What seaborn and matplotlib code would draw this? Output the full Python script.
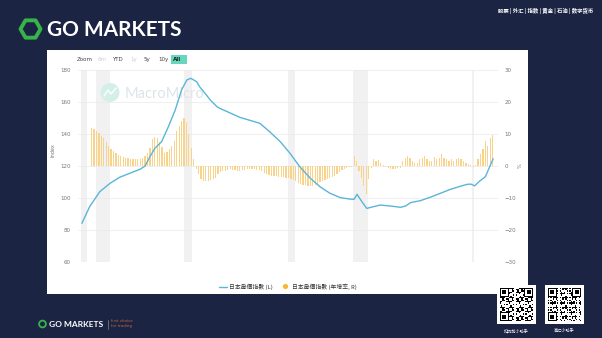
import numpy as np
import matplotlib
matplotlib.use("Agg")
import matplotlib.pyplot as plt
from matplotlib.patches import Rectangle, RegularPolygon, Circle, FancyBboxPatch
from matplotlib.lines import Line2D
from matplotlib.transforms import IdentityTransform
import seaborn as sns

# ---------------- data ----------------
line_years = [1980.0, 1980.8, 1981.85, 1982.9, 1983.9, 1984.9, 1986.0, 1986.5, 1987.0, 1987.5,
              1988.2, 1988.9, 1989.6, 1990.25, 1990.8, 1991.2, 1991.8, 1992.1, 1992.8, 1993.2,
              1993.9, 1994.2, 1996.25, 1998.3, 1999.3, 2000.4, 2001.4, 2002.4, 2003.5, 2004.5,
              2005.5, 2006.6, 2007.6, 2008.0, 2008.3, 2008.8, 2009.3, 2010.0, 2010.7, 2011.7,
              2012.8, 2013.3, 2013.8, 2014.8, 2015.8, 2016.9, 2017.9, 2018.9, 2019.6, 2020.0,
              2020.4, 2020.9, 2021.5, 2021.8, 2022.3]
line_values = [84.2, 94.6, 104.0, 109.2, 113.0, 115.4, 118.0, 120.0, 125.8, 131.0,
               135.2, 144.6, 155.0, 167.5, 173.8, 174.8, 172.7, 169.6, 164.4, 161.3,
               157.0, 156.0, 150.4, 146.7, 141.5, 135.2, 128.0, 119.6, 112.3, 107.0,
               103.0, 100.2, 99.3, 99.2, 102.3, 97.7, 93.5, 94.6, 95.6, 95.0,
               94.2, 95.0, 97.1, 98.3, 100.4, 103.0, 105.4, 107.3, 108.5, 108.7,
               107.6, 110.5, 113.3, 117.5, 124.5]

bar_start_year = 1981
bar_yoy = [12.0, 11.5, 10.8, 10.2,   9.4, 8.6, 7.5, 6.3,   5.3, 4.6, 4.0, 3.5,
           3.1, 2.8, 2.6, 2.4,       2.3, 2.3, 2.3, 2.3,   2.3, 2.5, 3.2, 4.0,
           5.7, 8.5, 9.2, 8.6,       7.5, 6.0, 4.2, 4.5,   5.2, 6.3, 7.8, 11.0,
           12.5, 14.0, 15.1, 13.6,   9.9, 5.7, 2.1, -0.8,  -2.6, -4.2, -4.7, -4.7,
           -4.7, -4.4, -4.2, -3.6,   -2.6, -2.0, -1.6, -1.5,  -1.2, -1.0, -1.2, -1.4,
           -1.5, -1.5, -1.3, -1.1,   -1.0, -0.9, -0.9, -1.0,  -1.1, -1.4, -1.7, -2.1,
           -2.6, -2.8, -3.0, -3.1,   -3.2, -3.3, -3.4, -3.5,  -3.6, -3.8, -4.1, -4.4,
           -4.8, -5.2, -5.5, -5.8,   -6.0, -6.2, -6.25, -6.2, -6.0, -5.6, -5.1, -4.7,
           -4.4, -4.1, -3.8, -3.5,   -3.0, -2.4, -1.8, -1.2,  -0.9, -0.6, -0.3, -0.2,
           3.1, 1.6, -1.6, -3.6,     -6.2, -8.8, -4.2, -0.5,  2.1, 1.6, 1.9, 0.8,
           0.2, -0.2, -0.5, -0.8,    -0.8, -1.0, -0.7, -0.5,  1.6, 2.6, 3.1, 2.6,
           1.6, 1.0, 1.0, 2.1,       2.6, 3.1, 2.1, 1.6,    1.6, 2.8, 2.1, 2.6,
           3.6, 2.6, 2.1, 1.6,       2.1, 1.6, 2.3, 2.6,    2.1, 1.6, 1.0, 0.5,
           0.2, -0.2, 0.2, 2.1,      3.6, 5.4, 7.8, 6.2,    8.9, 9.6]

recession_start = [1979.9, 1981.4, 1990.5, 2001.2, 2007.9, 2020.1]
recession_end = [1980.5, 1982.9, 1991.3, 2001.9, 2009.45, 2020.3]

x_ticks = [1980, 1985, 1990, 1995, 2000, 2005, 2010, 2015, 2020]
left_ticks = [60, 80, 100, 120, 140, 160, 180]
right_ticks = [-30, -20, -10, 0, 10, 20, 30]
zoom_labels = ["Zoom", "6m", "YTD", "1y", "5y", "10y", "All"]
nav_text = "股票 | 外汇 | 指数 | 黄金 | 石油 | 数字货币"
legend_labels = ["日本房價指數 (L)", "日本房價指數 (年增率, R)"]
qr_captions = ["扫码加小助手", "高汇小助手"]

# ---------------- style ----------------
sns.set_theme(style="white")
plt.rcParams["font.family"] = ["DejaVu Sans", "Noto Sans CJK TC"]

W, H = 602, 338
NAVY = "#1b2443"
GREEN = "#36b34a"
LINE_C = "#5ab5d8"
BAR_C = "#fad38a"

def fx(x):
    return x / W

def fy(y):
    return 1 - y / H

fig = plt.figure(figsize=(W / 100, H / 100), dpi=100, facecolor=NAVY)

# white panel
fig.patches.append(Rectangle((fx(47), fy(294)), (528 - 47) / W, (294 - 50) / H,
                             transform=fig.transFigure, facecolor="white",
                             edgecolor="none", zorder=-5))

# ---------------- chart ----------------
ax2 = fig.add_axes([fx(78), fy(262), 420 / W, 192 / H])
ax = ax2.twinx()
ax.yaxis.tick_left()
ax2.yaxis.tick_right()
ax2.set_zorder(0)
ax.set_zorder(1)
ax.patch.set_visible(False)
ax2.set_facecolor("white")

bar_x = bar_start_year + 0.25 * np.arange(len(bar_yoy))
for s, e in zip(recession_start, recession_end):
    ax2.axvspan(s, e, color="#f1f1f1", lw=0, zorder=0)

sns.barplot(x=bar_x, y=bar_yoy, native_scale=True, color=BAR_C, saturation=1,
            width=0.5, errorbar=None, linewidth=0, ax=ax2, zorder=2)
sns.lineplot(x=line_years, y=line_values, color=LINE_C, linewidth=1.0, ax=ax)

ax.set_xlim(1979.6, 2022.8)
ax2.set_xlim(1979.6, 2022.8)
ax.set_ylim(60, 180)
ax2.set_ylim(-30, 30)
ax2.set_yticks(right_ticks)
ax.set_yticks(left_ticks)
ax2.set_xticks(x_ticks)
ax2.set_xticklabels([str(t) for t in x_ticks])
ax.set_xticks([])
ax2.yaxis.grid(True, color="#e9e9e9", lw=0.5)
ax2.xaxis.grid(False)
ax2.set_axisbelow(True)
for a in (ax, ax2):
    a.set_xlabel("")
    a.set_ylabel("")
    for sp in a.spines.values():
        sp.set_visible(False)
ax2.tick_params(axis="y", labelsize=4, colors="#777777", length=0, pad=4.5,
                labelright=True, labelleft=False)
ax.tick_params(axis="y", labelsize=4, colors="#777777", length=0, pad=5.5,
               labelleft=True, labelright=False)
ax2.tick_params(axis="x", labelsize=3.6, colors="#777777", length=0, pad=3)

fig.text(fx(53), fy(150), "Index", rotation=90, fontsize=3.6, color="#777777",
         ha="center", va="center")
fig.text(fx(520), fy(166), "%", rotation=90, fontsize=3.6, color="#777777",
         ha="center", va="center")

# watermark
fig.patches.append(Circle((110, H - 92.5), 9.5, transform=IdentityTransform(),
                          facecolor="#d3efe8", edgecolor="none", zorder=0.5))
fig.lines.append(Line2D([104, 108, 111, 116], [H - 96, H - 90, H - 94, H - 88],
                        transform=IdentityTransform(), color="white", lw=1.0, zorder=0.6))
fig.text(fx(125), fy(93.5), "MacroMicro", fontsize=10.5, color="#dfe4e7",
         family="Lato", ha="left", va="center", zorder=0.5)

# zoom buttons
zoom_x = [77, 98, 112, 130, 144, 158, 173]
zoom_col = ["#444444", "#cccccc", "#444444", "#cccccc", "#444444", "#444444", "#222222"]
fig.patches.append(FancyBboxPatch((fx(171), fy(63.5)), 16 / W, 8.5 / H,
                                  boxstyle="square,pad=0", transform=fig.transFigure,
                                  facecolor="#66d7bc", edgecolor="none", zorder=1))
for lbl, xx, cc in zip(zoom_labels, zoom_x, zoom_col):
    fig.text(fx(xx), fy(59.5), lbl, fontsize=4, color=cc, ha="left", va="center",
             fontweight="bold" if lbl == "All" else "normal", zorder=2)

# legend
fig.lines.append(Line2D([fx(219.5), fx(226.5)], [fy(286.5), fy(286.5)],
                        transform=fig.transFigure, color=LINE_C, lw=1.0))
fig.text(fx(229), fy(286.5), legend_labels[0], fontsize=4.2, color="#333333",
         family=["Noto Sans CJK TC"], ha="left", va="center")
fig.patches.append(Circle((285.5, H - 286.5), 2.6, transform=IdentityTransform(),
                          facecolor="#f5b82e", edgecolor="none"))
fig.text(fx(292), fy(286.5), legend_labels[1], fontsize=4.2, color="#333333",
         family=["Noto Sans CJK TC"], ha="left", va="center")

# ---------------- slide decorations ----------------
fig.patches.append(RegularPolygon((30.5, H - 29), numVertices=6, radius=10,
                                  orientation=np.pi / 6, transform=IdentityTransform(),
                                  facecolor="none", edgecolor=GREEN, lw=2.8,
                                  joinstyle="round"))
fig.text(fx(47), fy(30.5), "GO MARKETS", fontsize=15, color="white", family="Lato",
         fontweight="bold", ha="left", va="center")
fig.text(fx(593), fy(11), nav_text, fontsize=3.9, color="white",
         family=["Noto Sans CJK SC"], fontweight="bold", ha="right", va="center")

# bottom-left logo
fig.patches.append(Circle((42.5, H - 324), 3.4, transform=IdentityTransform(),
                          facecolor="none", edgecolor=GREEN, lw=1.3))
fig.text(fx(49), fy(324.3), "GO MARKETS", fontsize=6, color="white", family="Lato",
         fontweight="bold", ha="left", va="center")
fig.lines.append(Line2D([fx(107.5), fx(107.5)], [fy(319.5), fy(328.5)],
                        transform=fig.transFigure, color="#7f869a", lw=0.5))
fig.text(fx(111), fy(321.3), "first choice", fontsize=2.8, color="#c8663e",
         ha="left", va="center")
fig.text(fx(111), fy(326.5), "for trading", fontsize=2.8, color="#c8663e",
         ha="left", va="center")

# QR codes (decorative)
def qr(x0, y0, size, k):
    n = 25
    i, j = np.mgrid[0:n, 0:n]
    m = (((i * 7 + j * 11 + k * 5) * (i + 3) + j * j * (k + 2)) % 7 < 3).astype(float)
    for (a, b) in [(0, 0), (0, n - 7), (n - 7, 0)]:
        m[a:a + 7, b:b + 7] = 1
        m[a + 1:a + 6, b + 1:b + 6] = 0
        m[a + 2:a + 5, b + 2:b + 5] = 1
    m = np.pad(m, 2)
    qa = fig.add_axes([fx(x0), fy(y0 + size), size / W, size / H])
    qa.imshow(1 - m, cmap="gray", vmin=0, vmax=1, interpolation="nearest", aspect="auto")
    qa.set_axis_off()

qr(497, 285, 39, 1)
qr(544.5, 285, 39, 2)
fig.text(fx(516.5), fy(330.5), qr_captions[0], fontsize=3, color="white",
         family=["Noto Sans CJK SC"], ha="center", va="center")
fig.text(fx(564), fy(330.5), qr_captions[1], fontsize=3, color="white",
         family=["Noto Sans CJK SC"], ha="center", va="center")

fig.savefig("out.png", dpi=100, facecolor=NAVY)
